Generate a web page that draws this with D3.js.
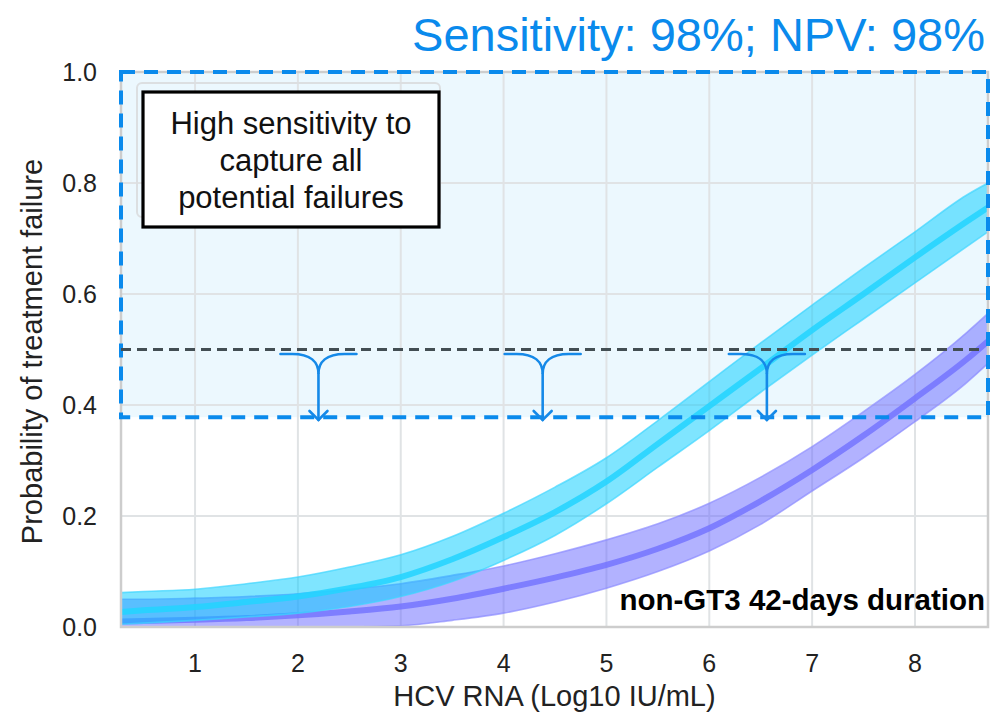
<!DOCTYPE html>
<meta charset="utf-8">
<head>
    <title>Probability of treatment failure</title>
    <script src="https://cdn.jsdelivr.net/npm/d3@7"></script>
    <style>
        body { margin: 0; background: #fff; }
        text { font-family: 'Liberation Sans', Arial, sans-serif; }
    </style>
</head>
<body>
<div id="chart"></div>
<script>

    // data
    var xs         = [0.28, 0.5, 1, 1.5, 2, 2.5, 3, 3.5, 4, 4.5, 5, 5.5, 6, 6.5, 7, 7.5, 8, 8.5, 8.71];
    var cyanMean   = [0.027, 0.030, 0.036, 0.045, 0.055, 0.070, 0.090, 0.122, 0.162, 0.207, 0.262, 0.330, 0.398, 0.466, 0.535, 0.600, 0.666, 0.730, 0.756];
    var cyanLow    = [0.005, 0.007, 0.012, 0.018, 0.025, 0.037, 0.055, 0.082, 0.120, 0.165, 0.222, 0.288, 0.354, 0.423, 0.490, 0.555, 0.620, 0.685, 0.712];
    var cyanHigh   = [0.062, 0.064, 0.068, 0.078, 0.090, 0.108, 0.130, 0.163, 0.205, 0.252, 0.305, 0.372, 0.442, 0.512, 0.580, 0.647, 0.712, 0.778, 0.800];
    var purpleMean = [0.010, 0.011, 0.013, 0.016, 0.021, 0.028, 0.037, 0.051, 0.069, 0.089, 0.112, 0.141, 0.178, 0.227, 0.283, 0.345, 0.412, 0.482, 0.515];
    var purpleLow  = [0.000, 0.000, 0.000, 0.000, 0.000, 0.000, 0.002, 0.012, 0.025, 0.045, 0.070, 0.100, 0.137, 0.185, 0.245, 0.305, 0.370, 0.440, 0.475];
    var purpleHigh = [0.050, 0.050, 0.052, 0.055, 0.060, 0.068, 0.078, 0.093, 0.110, 0.132, 0.157, 0.186, 0.223, 0.270, 0.325, 0.388, 0.455, 0.530, 0.565];

    var xTicks = [1, 2, 3, 4, 5, 6, 7, 8];
    var yTicks = [0, 0.2, 0.4, 0.6, 0.8, 1.0];

    var cutoff = 0.5;          // dashed threshold line
    var boxBottom = 0.378;     // lower edge of the blue dashed region
    var arrowX = [2.2, 4.38, 6.56];
    var arrowTop = 0.492, arrowJoin = 0.456, arrowTip = 0.373;

    var w = 992, h = 718;
    var pLeft = 121, pRight = 988, pTop = 72, pBottom = 627;

    var svg = d3.select("#chart").append("svg")
        .attr("width", w)
        .attr("height", h);

    var x = d3.scaleLinear().domain([0.28, 8.71]).range([pLeft, pRight]);
    var y = d3.scaleLinear().domain([0, 1]).range([pBottom, pTop]);

    svg.append("defs").append("clipPath").attr("id", "plotClip")
        .append("rect")
        .attr("x", pLeft).attr("y", pTop)
        .attr("width", pRight - pLeft).attr("height", pBottom - pTop);

    // light blue region
    svg.append("rect")
        .attr("x", x(0.28)).attr("y", y(1))
        .attr("width", x(8.71) - x(0.28))
        .attr("height", y(boxBottom) - y(1))
        .attr("fill", "#ecf8fe");

    // grid
    svg.append("g").selectAll("line").data(xTicks).enter().append("line")
        .attr("x1", d => x(d)).attr("x2", d => x(d))
        .attr("y1", pTop).attr("y2", pBottom)
        .attr("stroke", "#e0e3e5").attr("stroke-width", 2);
    svg.append("g").selectAll("line").data(yTicks.slice(1, 5)).enter().append("line")
        .attr("x1", pLeft).attr("x2", pRight)
        .attr("y1", d => y(d)).attr("y2", d => y(d))
        .attr("stroke", "#e0e3e5").attr("stroke-width", 2);

    // faint legend frame behind the text box
    svg.append("rect")
        .attr("x", 137).attr("y", 83).attr("width", 303).attr("height", 134)
        .attr("rx", 5)
        .attr("fill", "none").attr("stroke", "#dcdfe1").attr("stroke-width", 2);

    function rows(mean, low, high) {
        return xs.map(function(v, i) { return {x: v, m: mean[i], lo: low[i], hi: high[i]}; });
    }

    var series = [
        {data: rows(purpleMean, purpleLow, purpleHigh), band: "#6666ff", edge: "#8c8cff", mean: "#7474ff"},
        {data: rows(cyanMean, cyanLow, cyanHigh), band: "#00ccff", edge: "#3dd6ff", mean: "#22d3ff"}
    ];

    var area = d3.area().curve(d3.curveMonotoneX)
        .x(d => x(d.x)).y0(d => y(d.lo)).y1(d => y(d.hi));
    var lineLo = d3.line().curve(d3.curveMonotoneX).x(d => x(d.x)).y(d => y(d.lo));
    var lineHi = d3.line().curve(d3.curveMonotoneX).x(d => x(d.x)).y(d => y(d.hi));
    var lineM  = d3.line().curve(d3.curveMonotoneX).x(d => x(d.x)).y(d => y(d.m));

    var curves = svg.append("g").attr("clip-path", "url(#plotClip)");

    series.forEach(function(s) {
        curves.append("path").datum(s.data)
            .attr("d", area)
            .attr("fill", s.band).attr("fill-opacity", 0.5);
        [lineLo, lineHi].forEach(function(l) {
            curves.append("path").datum(s.data)
                .attr("d", l)
                .attr("fill", "none").attr("stroke", s.edge)
                .attr("stroke-width", 1.6).attr("stroke-opacity", 0.7);
        });
        curves.append("path").datum(s.data)
            .attr("d", lineM)
            .attr("fill", "none").attr("stroke", s.mean)
            .attr("stroke-width", 6).attr("stroke-opacity", 0.85);
    });

    // plot frame
    svg.append("rect")
        .attr("x", pLeft).attr("y", pTop)
        .attr("width", pRight - pLeft).attr("height", pBottom - pTop)
        .attr("fill", "none").attr("stroke", "#cdcdcd").attr("stroke-width", 2.5);

    // blue dashed region outline
    svg.append("rect")
        .attr("x", x(0.28)).attr("y", y(1))
        .attr("width", x(8.71) - x(0.28))
        .attr("height", y(boxBottom) - y(1))
        .attr("fill", "none")
        .attr("stroke", "#0a8aec").attr("stroke-width", 4)
        .attr("stroke-dasharray", "14,9");

    // threshold line
    svg.append("line")
        .attr("x1", pLeft).attr("x2", pRight - 3)
        .attr("y1", y(cutoff)).attr("y2", y(cutoff))
        .attr("stroke", "#434e53").attr("stroke-width", 3.2)
        .attr("stroke-dasharray", "10,6");

    // curly arrows
    var arrows = svg.append("g")
        .attr("fill", "none").attr("stroke", "#1589e8")
        .attr("stroke-width", 2.6).attr("stroke-linecap", "round");

    arrowX.forEach(function(a) {
        var cx = x(a), yt = y(arrowTop), yj = y(arrowJoin), yb = y(arrowTip);
        arrows.append("path")
            .attr("d", "M" + (cx - 38) + "," + yt + " L" + (cx - 26) + "," + yt +
                " C" + (cx - 8) + "," + yt + " " + cx + "," + (yt + 8) + " " + cx + "," + yj +
                " C" + cx + "," + (yt + 8) + " " + (cx + 8) + "," + yt + " " + (cx + 26) + "," + yt +
                " L" + (cx + 38) + "," + yt);
        arrows.append("path")
            .attr("d", "M" + cx + "," + yj + " L" + cx + "," + yb);
        arrows.append("path")
            .attr("d", "M" + (cx - 9) + "," + (yb - 9) + " L" + cx + "," + yb + " L" + (cx + 9) + "," + (yb - 9));
    });

    // text box
    svg.append("rect")
        .attr("x", 143).attr("y", 92).attr("width", 296).attr("height", 135)
        .attr("fill", "#fff").attr("stroke", "#000").attr("stroke-width", 3.2);
    var boxLines = ["High sensitivity to", "capture all", "potential failures"];
    svg.append("g").selectAll("text").data(boxLines).enter().append("text")
        .attr("x", 291).attr("y", (d, i) => 134 + i * 37)
        .attr("text-anchor", "middle")
        .attr("font-size", "31px").attr("fill", "#111")
        .text(d => d);

    // axes labels
    svg.append("g").selectAll("text").data(yTicks).enter().append("text")
        .attr("x", 97).attr("y", d => y(d) + 9)
        .attr("text-anchor", "end")
        .attr("font-size", "25px").attr("fill", "#222")
        .text(d => d3.format(".1f")(d));

    svg.append("g").selectAll("text").data(xTicks).enter().append("text")
        .attr("x", d => x(d)).attr("y", 672)
        .attr("text-anchor", "middle")
        .attr("font-size", "25px").attr("fill", "#222")
        .text(d => d);

    svg.append("text")
        .attr("transform", "translate(42," + ((pTop + pBottom) / 2 + 2) + ") rotate(-90)")
        .attr("text-anchor", "middle")
        .attr("font-size", "29px").attr("fill", "#222")
        .text("Probability of treatment failure");

    svg.append("text")
        .attr("x", (pLeft + pRight) / 2).attr("y", 706)
        .attr("text-anchor", "middle")
        .attr("font-size", "29px").attr("fill", "#222")
        .text("HCV RNA (Log10 IU/mL)");

    svg.append("text")
        .attr("x", 985).attr("y", 610)
        .attr("text-anchor", "end")
        .attr("font-size", "29.5px").attr("font-weight", "bold").attr("fill", "#000")
        .text("non-GT3 42-days duration");

    svg.append("text")
        .attr("x", 985).attr("y", 51)
        .attr("text-anchor", "end")
        .attr("font-size", "47px").attr("fill", "#0a8aec")
        .text("Sensitivity: 98%; NPV: 98%");

</script>
</body>
</html>
